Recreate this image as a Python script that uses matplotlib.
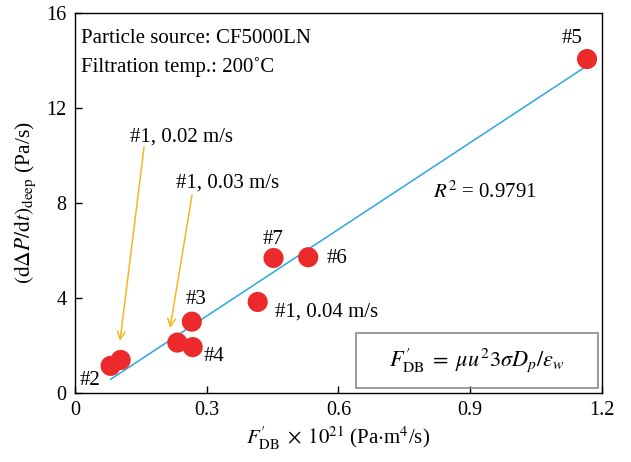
import matplotlib
matplotlib.use("Agg")
import matplotlib.pyplot as plt
from matplotlib.patches import Rectangle

plt.rcParams['font.family'] = ['Liberation Serif', 'DejaVu Serif']
plt.rcParams['mathtext.fontset'] = 'stix'

# data
x_vals = [0.081, 0.104, 0.233, 0.266, 0.268, 0.416, 0.452, 0.531, 1.166]
y_vals = [1.14, 1.39, 2.12, 3.00, 1.93, 3.83, 5.68, 5.71, 14.05]
fit_slope = 12.16
fit_intercept = -0.41
fit_x = [0.081, 1.166]
x_ticks = [0, 0.3, 0.6, 0.9, 1.2]
x_tick_labels = ['0', '0.3', '0.6', '0.9', '1.2']
y_ticks = [0, 4, 8, 12, 16]

fig = plt.figure(figsize=(6.31, 4.62), dpi=100)
ax = fig.add_axes([0.1189, 0.1494, 0.954 - 0.1189, 0.9725 - 0.1494])

fit_y = [fit_slope * v + fit_intercept for v in fit_x]
ax.plot(fit_x, fit_y, color='#2aa7df', lw=1.1, zorder=2)
ax.scatter(x_vals, y_vals, s=210, color='#ec2a2c', edgecolors='none', zorder=3)

ax.set_xlim(0, 1.2)
ax.set_ylim(0, 16)
ax.set_xticks(x_ticks)
ax.set_xticklabels(x_tick_labels)
ax.set_yticks(y_ticks)
ax.tick_params(direction='in', length=5, labelsize=14.5, width=1, pad=6)
for s in ax.spines.values():
    s.set_linewidth(1.0)

ax.set_xlabel(r"$F_{\mathrm{DB}}^{\prime}\;\times\;10^{21}$ (Pa$\cdot$m$^4$/s)", fontsize=15, labelpad=3)
ax.set_ylabel(r"$(\mathrm{d}\Delta P/\mathrm{d}t)_{\mathrm{deep}}$ (Pa/s)", fontsize=15.5, labelpad=6)

fs = 15
def px2d(px, py):
    return ((px - 75) / 439.1, (393 - py) / 23.77)

def label(txt, px, py, ha='left'):
    x, y = px2d(px, py)
    ax.text(x, y, txt, fontsize=fs, ha=ha, va='center')

label('Particle source: CF5000LN', 81, 38)
label('Filtration temp.: 200˚C', 81, 67)
label('#1, 0.02 m/s', 130, 137)
label('#1, 0.03 m/s', 176, 183)
label('#5', 572, 38, ha='center')
label('#7', 273, 240, ha='center')
label('#6', 327, 259)
label('#3', 196, 300, ha='center')
label('#4', 204, 357)
label('#1, 0.04 m/s', 275, 312)
label('#2', 80, 381)
x, y = px2d(433, 192)
ax.text(x, y, r'$R^2$ = 0.9791', fontsize=fs, ha='left', va='center')

for (sx, sy), (tx, ty) in [((144, 147), (120, 341)), ((192, 195), (170, 328))]:
    ax.annotate('', xy=px2d(tx, ty), xytext=px2d(sx, sy),
                arrowprops=dict(arrowstyle='->', color='#f6b71e', lw=1.1,
                                mutation_scale=14, shrinkA=0, shrinkB=0))

ax.add_patch(Rectangle((0.533, 0.014), 0.992 - 0.533, 0.158 - 0.014,
                       transform=ax.transAxes, fill=False, edgecolor='#8a8a8a', lw=1.2, zorder=4))
ax.text(0.763, 0.086, r"$F_{\mathrm{DB}}^{\prime}\;=\;\mu u^2 3\sigma D_p/\varepsilon_w$",
        transform=ax.transAxes, fontsize=16, ha='center', va='center')

fig.savefig('out.png', dpi=100)
